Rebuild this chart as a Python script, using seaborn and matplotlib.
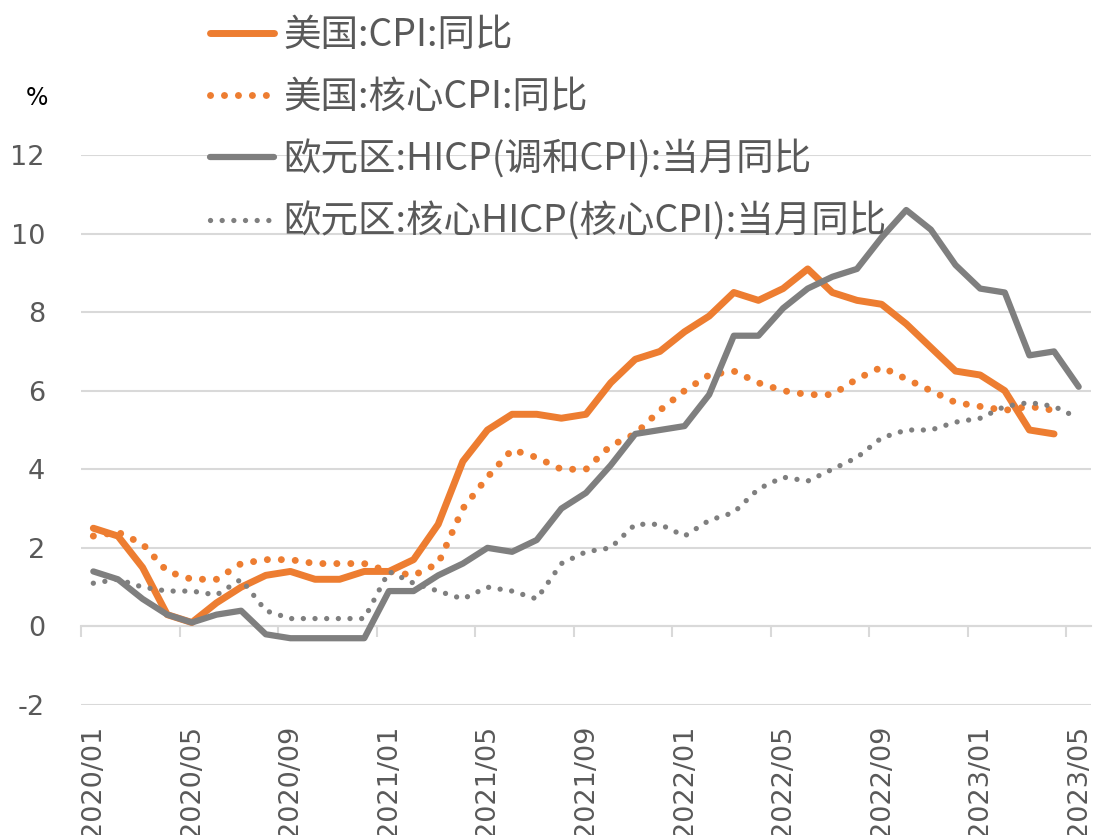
import numpy as np
import pandas as pd
import seaborn as sns
import matplotlib.pyplot as plt

# monthly labels 2020/01 .. 2023/05
months = [f"{y}/{m:02d}" for y in (2020, 2021, 2022) for m in range(1, 13)] + \
         [f"2023/{m:02d}" for m in range(1, 6)]

us_cpi = [2.5, 2.3, 1.5, 0.3, 0.1, 0.6, 1.0, 1.3, 1.4, 1.2, 1.2, 1.4,
          1.4, 1.7, 2.6, 4.2, 5.0, 5.4, 5.4, 5.3, 5.4, 6.2, 6.8, 7.0,
          7.5, 7.9, 8.5, 8.3, 8.6, 9.1, 8.5, 8.3, 8.2, 7.7, 7.1, 6.5,
          6.4, 6.0, 5.0, 4.9, np.nan]
us_core = [2.3, 2.4, 2.1, 1.4, 1.2, 1.2, 1.6, 1.7, 1.7, 1.6, 1.6, 1.6,
           1.4, 1.3, 1.6, 3.0, 3.8, 4.5, 4.3, 4.0, 4.0, 4.6, 4.9, 5.5,
           6.0, 6.4, 6.5, 6.2, 6.0, 5.9, 5.9, 6.3, 6.6, 6.3, 6.0, 5.7,
           5.6, 5.5, 5.6, 5.5, np.nan]
ez_hicp = [1.4, 1.2, 0.7, 0.3, 0.1, 0.3, 0.4, -0.2, -0.3, -0.3, -0.3, -0.3,
           0.9, 0.9, 1.3, 1.6, 2.0, 1.9, 2.2, 3.0, 3.4, 4.1, 4.9, 5.0,
           5.1, 5.9, 7.4, 7.4, 8.1, 8.6, 8.9, 9.1, 9.9, 10.6, 10.1, 9.2,
           8.6, 8.5, 6.9, 7.0, 6.1]
ez_core = [1.1, 1.2, 1.0, 0.9, 0.9, 0.8, 1.2, 0.4, 0.2, 0.2, 0.2, 0.2,
           1.4, 1.1, 0.9, 0.7, 1.0, 0.9, 0.7, 1.6, 1.9, 2.0, 2.6, 2.6,
           2.3, 2.7, 2.9, 3.5, 3.8, 3.7, 4.0, 4.3, 4.8, 5.0, 5.0, 5.2,
           5.3, 5.6, 5.7, 5.6, 5.3]

names = ["美国:CPI:同比", "美国:核心CPI:同比",
         "欧元区:HICP(调和CPI):当月同比", "欧元区:核心HICP(核心CPI):当月同比"]

ORANGE = "#ED7D31"
GRAY = "#7F7F7F"
TEXT = "#595959"
GRID = "#D9D9D9"

df = pd.DataFrame({"idx": range(len(months)), "month": months,
                   names[0]: us_cpi, names[1]: us_core,
                   names[2]: ez_hicp, names[3]: ez_core})

sns.set_style("white")
plt.rcParams['font.family'] = ['DejaVu Sans']
plt.rcParams['axes.unicode_minus'] = False

fig = plt.figure(figsize=(10.94, 8.35), dpi=100)
ax = fig.add_axes([81 / 1094, 1 - 705 / 835, 1010 / 1094, 550 / 835])

styles = [
    dict(color=ORANGE, lw=5, solid_capstyle='round'),
    dict(color=ORANGE, lw=5, linestyle=(0, (0.01, 2.0)), dash_capstyle='round'),
    dict(color=GRAY, lw=4.5, solid_capstyle='round'),
    dict(color=GRAY, lw=3.8, linestyle=(0, (0.01, 2.2)), dash_capstyle='round'),
]
for name, st in zip(names, styles):
    sns.lineplot(data=df, x="idx", y=name, ax=ax, label=name, **st)

ax.set_xlim(-0.5, len(months) - 0.5)
ax.set_ylim(-2, 12)
ax.set_yticks(range(-2, 13, 2))
ax.yaxis.grid(True, color=GRID, lw=1.5)
ax.set_axisbelow(True)
for s in ax.spines.values():
    s.set_visible(False)

ax.set_xticks(df["idx"][::4])
ax.set_xticklabels(df["month"][::4], rotation=90)
ax.tick_params(axis='x', length=0, pad=14, labelsize=19.5, labelcolor=TEXT)
ax.tick_params(axis='y', length=0, pad=26, labelsize=19.5, labelcolor=TEXT)
ax.set_xlabel("")
ax.set_ylabel("")

# category axis crossing at 0 with tick marks between categories
zero = ax.secondary_xaxis(2 / 14)
zero.set_xticks(np.arange(-0.5, len(months), 4))
zero.set_xticklabels([])
zero.tick_params(axis='x', length=8, width=1.5, color=GRID, direction='out')
zero.spines['bottom'].set_color(GRID)
zero.spines['bottom'].set_linewidth(1.5)

fig.text(37 / 1094, 1 - 98 / 835, "%", fontsize=17, ha='center', va='center', color='black')

leg = ax.legend(loc='upper left', bbox_to_anchor=(210 / 1094, 1 - 16 / 835),
                bbox_transform=fig.transFigure, frameon=False,
                prop={'family': ['Noto Sans CJK SC', 'DejaVu Sans'], 'size': 27},
                handlelength=1.7, handletextpad=0.25, labelspacing=0.62,
                borderpad=0, borderaxespad=0)
for t in leg.get_texts():
    t.set_color(TEXT)

fig.savefig("out.png", dpi=100)
plt.close(fig)
